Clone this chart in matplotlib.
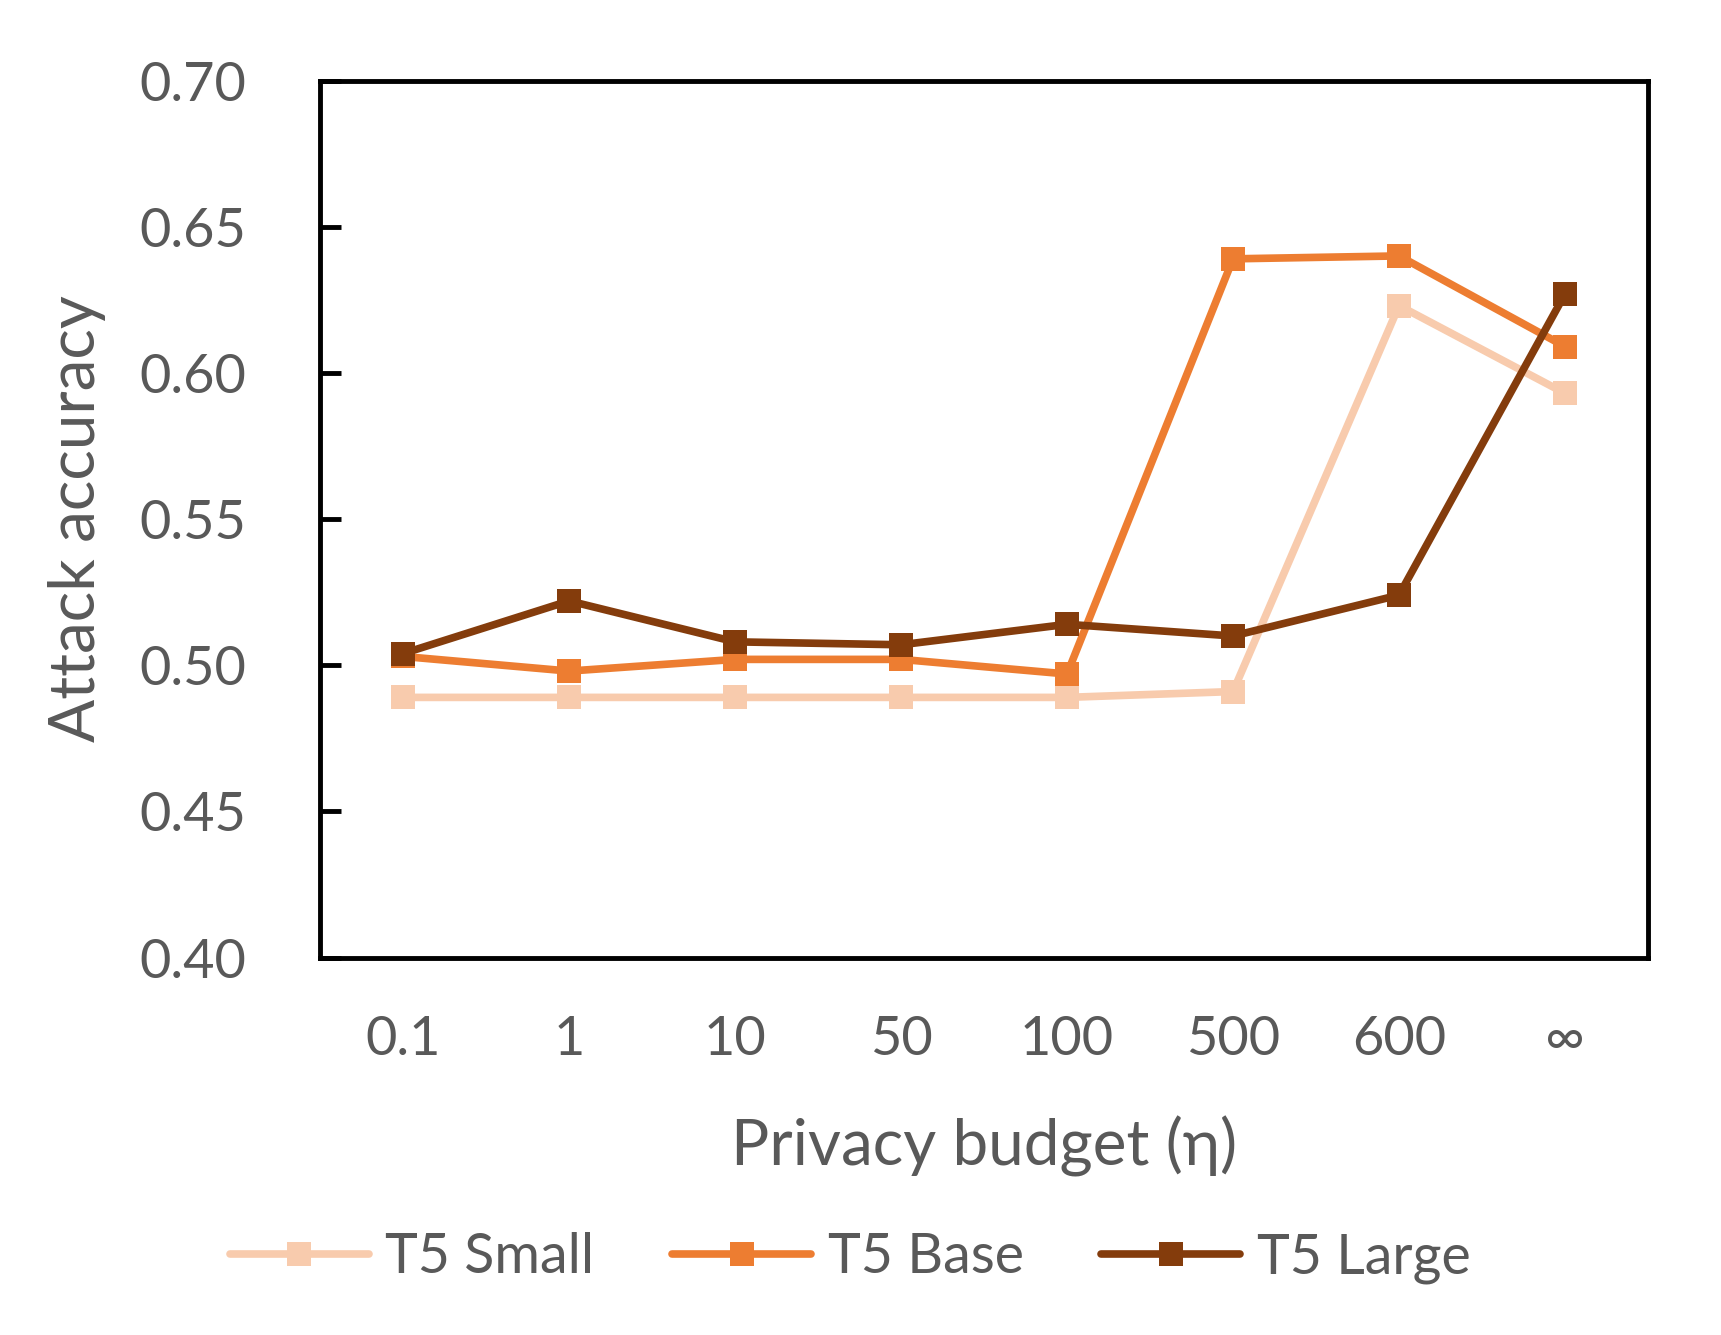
import matplotlib
matplotlib.use("Agg")
import matplotlib.pyplot as plt
from matplotlib.ticker import FixedLocator, FormatStrFormatter

categories = ["0.1", "1", "10", "50", "100", "500", "600", "∞"]
t5_small = [0.489, 0.489, 0.489, 0.489, 0.489, 0.491, 0.623, 0.593]
t5_base = [0.503, 0.498, 0.502, 0.502, 0.497, 0.639, 0.640, 0.609]
t5_large = [0.504, 0.522, 0.508, 0.507, 0.514, 0.510, 0.524, 0.627]
series_names = ["T5 Small", "T5 Base", "T5 Large"]
yticks = [0.40, 0.45, 0.50, 0.55, 0.60, 0.65, 0.70]

colors = ["#F8CBAD", "#ED7D31", "#843C0C"]
text_color = "#595959"

plt.rcParams['font.family'] = ['Lato', 'DejaVu Sans']

fig = plt.figure(figsize=(17.21, 13.35), dpi=100)
ax = fig.add_axes([0.186, 0.2827, 0.7716, 0.6570])

x = list(range(len(categories)))
for vals, name, c in zip([t5_small, t5_base, t5_large], series_names, colors):
    ax.plot(x, vals, color=c, lw=5.5, marker='s', markersize=17,
            markeredgewidth=0, label=name, solid_joinstyle='round',
            solid_capstyle='round')

ax.set_xlim(-0.5, len(categories) - 0.5)
ax.set_ylim(0.40, 0.70)
ax.set_xticks(x)
ax.set_xticklabels(categories)
ax.yaxis.set_major_locator(FixedLocator(yticks))
ax.yaxis.set_major_formatter(FormatStrFormatter('%.2f'))

for s in ax.spines.values():
    s.set_linewidth(3.5)
    s.set_color('black')

ax.tick_params(axis='x', length=0, pad=41, labelsize=39, labelcolor=text_color)
ax.tick_params(axis='y', direction='in', length=15, width=3.5, pad=53,
               labelsize=39, labelcolor=text_color)

ax.set_ylabel("Attack accuracy", fontsize=46, color=text_color)
ax.yaxis.set_label_coords(-0.161, 0.5)
ax.set_xlabel("Privacy budget (η)", fontsize=46, color=text_color, va='top')
ax.xaxis.set_label_coords(0.5, -0.18)

leg = fig.legend(loc='center', bbox_to_anchor=(0.494, 0.0577), ncol=3,
                 frameon=False, fontsize=40, handlelength=2.5,
                 handletextpad=0.3, columnspacing=1.4)
for t in leg.get_texts():
    t.set_color(text_color)

fig.savefig("out.png", dpi=100)
